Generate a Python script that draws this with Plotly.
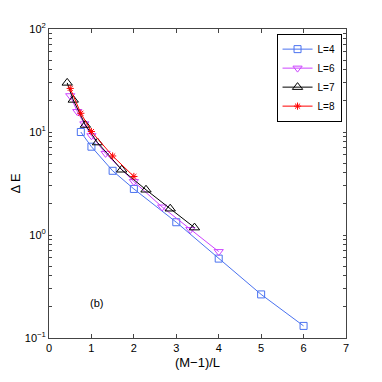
import plotly.graph_objects as go

# L=4
x_L4 = [0.75, 1.0, 1.5, 2.0, 3.0, 4.0, 5.0, 6.0]
y_L4 = [10.0, 7.2, 4.2, 2.8, 1.33, 0.59, 0.265, 0.131]
# L=6
x_L6 = [0.5, 0.667, 0.833, 1.0, 1.333, 2.0, 2.667, 3.333, 4.0]
y_L6 = [22.5, 15.8, 12.0, 9.2, 6.2, 3.3, 1.87, 1.13, 0.69]
# L=7
x_L7 = [0.429, 0.571, 0.857, 1.143, 1.714, 2.286, 2.857, 3.429]
y_L7 = [30.0, 20.5, 11.7, 7.9, 4.3, 2.75, 1.8, 1.18]
# L=8
x_L8 = [0.5, 0.75, 1.0, 1.5, 2.0]
y_L8 = [26.5, 15.2, 10.1, 5.85, 3.7]

font = dict(family="Liberation Sans, Arial, sans-serif", size=11, color="black")

# log ticks: decades get a label, the 2..9 marks in between stay blank
decade_text = {-1: '10<sup>\u22121</sup>', 0: '10<sup>0</sup>', 1: '10<sup>1</sup>', 2: '10<sup>2</sup>'}
ytick_vals, ytick_text = [], []
for e in (-1, 0, 1, 2):
    for m in (range(1, 10) if e < 2 else [1]):
        ytick_vals.append(m * 10 ** e)
        ytick_text.append(decade_text[e] if m == 1 else '')

fig = go.Figure()
fig.add_trace(go.Scatter(x=x_L4, y=y_L4, mode='lines+markers', name='L=4',
                         line=dict(color='#4a72f0', width=1),
                         marker=dict(symbol='square-open', size=7, color='#4a72f0')))
fig.add_trace(go.Scatter(x=x_L6, y=y_L6, mode='lines+markers', name='L=6',
                         line=dict(color='#cc44ff', width=1),
                         marker=dict(symbol='triangle-down-open', size=8, color='#cc44ff')))
fig.add_trace(go.Scatter(x=x_L7, y=y_L7, mode='lines+markers', name='L=7',
                         line=dict(color='black', width=1),
                         marker=dict(symbol='triangle-up-open', size=9, color='black')))
fig.add_trace(go.Scatter(x=x_L8, y=y_L8, mode='lines+markers', name='L=8',
                         line=dict(color='red', width=1),
                         marker=dict(symbol='asterisk-open', size=6, color='red', line=dict(width=1, color='red'))))

fig.add_annotation(x=1.13, y=-0.66, xref='x', yref='y', text='(b)', showarrow=False,
                   font=dict(family=font['family'], size=11, color='black'))

# page body has an 8px margin, so the margins are shifted to compensate
fig.update_layout(
    width=382, height=382,
    margin=dict(l=41, r=44, t=21, b=52),
    plot_bgcolor='white', paper_bgcolor='white',
    font=font,
    showlegend=True,
    legend=dict(x=0.985, y=0.985, xanchor='right', yanchor='top',
                bordercolor='black', borderwidth=1, bgcolor='white',
                font=dict(size=10), tracegroupgap=0, itemwidth=30),
)
fig.update_xaxes(range=[0, 7], dtick=1, tick0=0, showgrid=False, zeroline=False,
                 showline=True, linecolor='#444', mirror='ticks',
                 ticks='inside', ticklen=4, tickcolor='#444', automargin=False,
                 title=dict(text='(M\u22121)/L', standoff=4))
fig.update_yaxes(type='log', range=[-1, 2], showgrid=False, zeroline=False,
                 showline=True, linecolor='#444', mirror='ticks',
                 ticks='inside', ticklen=3, tickcolor='#444', automargin=False,
                 tickvals=ytick_vals, ticktext=ytick_text,
                 title=dict(text='\u0394 E', standoff=8))

fig.write_html("out.html")
